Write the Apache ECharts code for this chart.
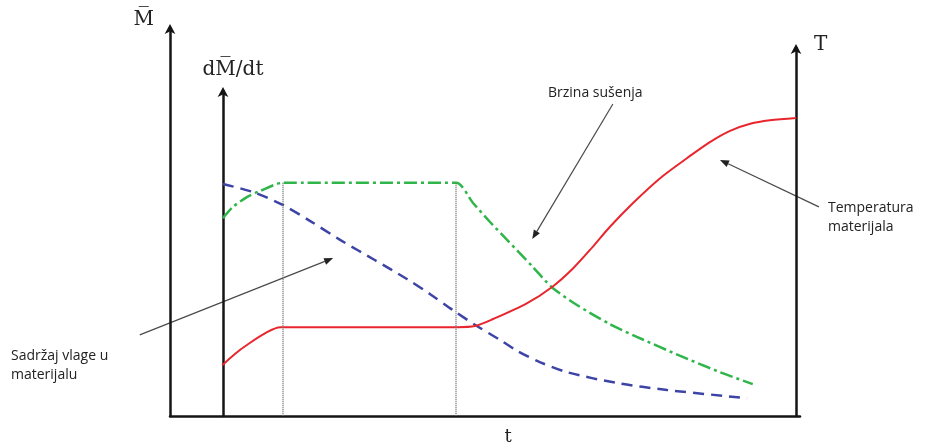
<!DOCTYPE html>
<html>
<head>
<meta charset="utf-8">
<script src="https://cdn.jsdelivr.net/npm/echarts@6/dist/echarts.min.js"></script>
<style>
  html, body { margin: 0; padding: 0; background: #fff; }
  #chart { width: 925px; height: 443px; }
</style>
</head>
<body>
<div id="chart"></div>
<script>
// Drying curves: time t on the horizontal axis (arbitrary units 0..10),
// all three quantities on a shared arbitrary vertical scale (0..10).

// Drying rate dM/dt (green, dash-dot)
const rateT = [0.84, 1.00, 1.22, 1.43, 1.79, 4.54, 4.81, 5.08, 5.35, 5.76, 6.06, 6.46, 6.98, 7.41, 8.10, 8.73, 9.25];
const rateV = [5.10, 5.39, 5.64, 5.80, 6.01, 6.01, 5.49, 5.00, 4.54, 3.84, 3.32, 2.86, 2.37, 2.04, 1.55, 1.13, 0.82];

// Moisture content M (blue, dashed)
const moistT = [0.84, 1.32, 1.79, 2.22, 2.70, 3.25, 3.76, 4.13, 4.49, 4.87, 5.24, 5.51, 5.87, 6.30, 7.10, 7.89, 9.16];
const moistV = [5.98, 5.77, 5.44, 5.03, 4.54, 4.02, 3.53, 3.14, 2.73, 2.32, 1.96, 1.68, 1.39, 1.13, 0.85, 0.67, 0.46];

// Material temperature T (red, solid)
const tempT = [0.83, 1.03, 1.22, 1.54, 1.75, 4.56, 4.84, 5.13, 5.67, 6.06, 6.40, 6.71, 6.98, 7.35, 7.78, 8.21, 8.57, 8.89, 9.21, 9.52, 9.94];
const tempV = [1.31, 1.60, 1.83, 2.16, 2.29, 2.29, 2.32, 2.50, 2.91, 3.32, 3.81, 4.36, 4.87, 5.49, 6.13, 6.65, 7.06, 7.35, 7.53, 7.62, 7.68];

// Boundaries of the constant-rate period (dotted verticals)
const periodT = [1.79, 4.54];
const periodTop = 6.01;

// Axis titles
const axisNames = { moisture: 'M\u0305', rate: 'dM\u0305/dt', temp: 'T', time: 't' };

// Callout texts and arrow ends [tail, head] in data units
const callouts = [
  { lines: ['Brzina sušenja'], x: 548, y: 84, arrow: [[7.03, 8.04], [5.75, 4.56]] },
  { lines: ['Temperatura', 'materijala'], x: 828, y: 199, arrow: [[10.30, 5.39], [8.73, 6.60]] },
  { lines: ['Sadržaj vlage u', 'materijalu'], x: 11, y: 347, arrow: [[-0.48, 2.09], [2.59, 4.07]] }
];

const zip = (a, b) => a.map((v, i) => [v, b[i]]);

const chart = echarts.init(document.getElementById('chart'), null, { renderer: 'canvas' });

const axisColor = '#151515';
const serifFont = 'DejaVu Serif';
const sansFont = 'Open Sans';

const hiddenX = (gi) => ({ type: 'value', gridIndex: gi, show: false, min: 0, max: 1 });
const arrowY = (gi, name, style) => ({
  type: 'value', gridIndex: gi, min: 0, max: 10,
  name: name, nameLocation: 'end',
  nameGap: style.gap,
  nameTextStyle: Object.assign({ fontFamily: serifFont, fontSize: 20, color: '#222', verticalAlign: 'middle' }, style.text),
  axisLine: { show: true, onZero: false, symbol: ['none', 'arrow'], symbolSize: [8, 10], symbolOffset: [0, 4],
    lineStyle: { color: axisColor, width: 2.5 } },
  axisTick: { show: false }, axisLabel: { show: false }, splitLine: { show: false }
});

const option = {
  animation: false,
  backgroundColor: '#fff',
  grid: [
    { left: 170, right: 125, top: 28, bottom: 27, outerBoundsMode: 'none', containLabel: false },
    { left: 223, width: 10, top: 91, bottom: 27, outerBoundsMode: 'none', containLabel: false },
    { left: 796, width: 10, top: 48, bottom: 27, outerBoundsMode: 'none', containLabel: false }
  ],
  xAxis: [
    {
      type: 'value', gridIndex: 0, min: 0, max: 10,
      name: axisNames.time, nameLocation: 'middle', nameGap: 12,
      nameTextStyle: { fontFamily: serifFont, fontSize: 18, color: '#222', padding: [0, 0, 0, 46] },
      axisLine: { show: true, onZero: false, lineStyle: { color: axisColor, width: 2.5 } },
      axisTick: { show: false }, axisLabel: { show: false }, splitLine: { show: false }
    },
    hiddenX(1),
    hiddenX(2)
  ],
  yAxis: [
    arrowY(0, axisNames.moisture, { gap: 8, text: { align: 'right', padding: [0, 16, 0, 0] } }),
    arrowY(1, axisNames.rate, { gap: 21, text: { align: 'center', padding: [0, 0, 0, 20] } }),
    arrowY(2, axisNames.temp, { gap: 3, text: { align: 'left', padding: [0, 0, 0, 18] } })
  ],
  series: [
    {
      name: 'Brzina sušenja', type: 'line', xAxisIndex: 0, yAxisIndex: 0,
      data: zip(rateT, rateV), showSymbol: false, smooth: 0.25,
      lineStyle: { color: '#2fb54a', width: 2.5, type: [13, 4, 3, 4] },
      markLine: {
        silent: true, symbol: ['none', 'none'], label: { show: false },
        lineStyle: { color: '#777', width: 1.5, type: [1, 1] },
        data: periodT.map(t => [{ coord: [t, periodTop] }, { coord: [t, 0] }])
      },
      z: 3
    },
    {
      name: 'Sadržaj vlage u materijalu', type: 'line', xAxisIndex: 0, yAxisIndex: 0,
      data: zip(moistT, moistV), showSymbol: false, smooth: 0.3,
      lineStyle: { color: '#3d44a6', width: 2.5, type: [11, 7] },
      z: 3
    },
    {
      name: 'Temperatura materijala', type: 'line', xAxisIndex: 0, yAxisIndex: 0,
      data: zip(tempT, tempV), showSymbol: false, smooth: 0.3,
      lineStyle: { color: '#e8262d', width: 2 },
      z: 4
    }
  ]
};

chart.setOption(option);

// Callout arrows: ends given in data units, converted through the grid's scales
const elements = [];
callouts.forEach(c => {
  const p0 = chart.convertToPixel({ gridIndex: 0 }, c.arrow[0]);
  const p1 = chart.convertToPixel({ gridIndex: 0 }, c.arrow[1]);
  const dx = p1[0] - p0[0], dy = p1[1] - p0[1];
  const len = Math.hypot(dx, dy);
  const ux = dx / len, uy = dy / len;
  const headLen = 9, headHalf = 3.5;
  const bx = p1[0] - ux * headLen, by = p1[1] - uy * headLen;
  elements.push({
    type: 'line', silent: true,
    shape: { x1: p0[0], y1: p0[1], x2: bx, y2: by },
    style: { stroke: '#4a4a4a', lineWidth: 1.2 }
  });
  elements.push({
    type: 'polygon', silent: true,
    shape: { points: [[p1[0], p1[1]], [bx - uy * headHalf, by + ux * headHalf], [bx + uy * headHalf, by - ux * headHalf]] },
    style: { fill: '#222' }
  });
  elements.push({
    type: 'text', silent: true, left: c.x, top: c.y,
    style: { text: c.lines.join('\n'), font: '14px "' + sansFont + '"', fill: '#222', lineHeight: 19 }
  });
});
chart.setOption({ graphic: elements });
</script>
</body>
</html>
